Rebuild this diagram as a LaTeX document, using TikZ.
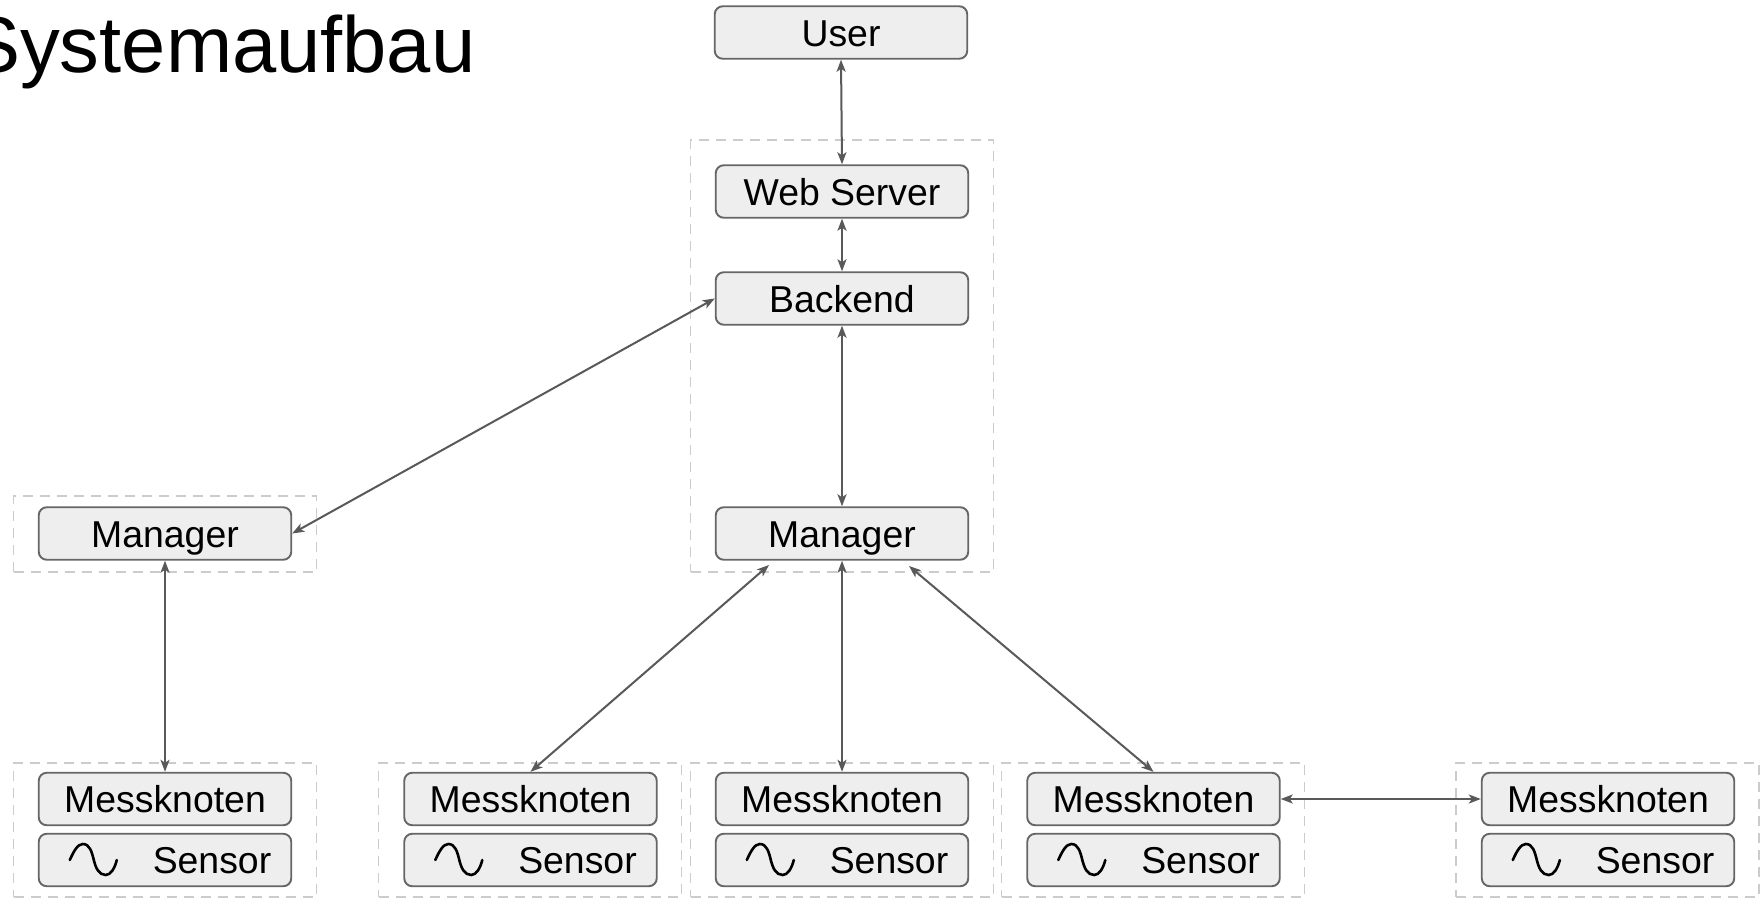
\documentclass[tikz,border=0pt]{standalone}
\usepackage{fontspec}
\setmainfont{Liberation Sans}
\usetikzlibrary{arrows.meta,calc}
\tikzset{
  x=1pt,y=-1pt,
  box/.style={draw=boxline,fill=boxfill,line width=1.9pt,rounded corners=8pt,minimum width=252.5pt,minimum height=52.5pt,inner sep=0pt,font=\fontsize{37.4}{40}\selectfont,text height=27.5pt,text depth=0pt},
  zone/.style={draw=zoneline,line width=1.9pt,dash pattern=on 10pt off 7pt,minimum height=10pt,inner sep=0pt,rectangle},
  link/.style={draw=linkc,line width=2pt,{Stealth[length=12pt,width=9pt,inset=3pt]}-{Stealth[length=12pt,width=9pt,inset=3pt]}},
  wave/.style={line width=2.6pt,black,line cap=round}
}
\definecolor{boxline}{HTML}{666666}
\definecolor{boxfill}{HTML}{EEEEEE}
\definecolor{zoneline}{HTML}{CCCCCC}
\definecolor{linkc}{HTML}{595959}
\begin{document}
\begin{tikzpicture}
\useasboundingbox (0,0) rectangle (1760,899);
\fill[white] (0,0) rectangle (1760,899);
% zones
\node[zone,minimum width=303pt,minimum height=432pt] (zc) at (842,356) {};
\node[zone,minimum width=303pt,minimum height=76pt] (zl) at (165,534) {};
\node[zone,minimum width=303pt,minimum height=134pt] (z1) at (165,830) {};
\node[zone,minimum width=303pt,minimum height=134pt] (z2) at (530,830) {};
\node[zone,minimum width=303pt,minimum height=134pt] (z3) at (842,830) {};
\node[zone,minimum width=303pt,minimum height=134pt] (z4) at (1153,830) {};
\node[zone,minimum width=303pt,minimum height=134pt] (z5) at (1607.5,830) {};
% title
\node[anchor=base west,inner sep=0pt,font=\fontsize{79.5}{82}\selectfont] (title) at (-33,73) {Systemaufbau};
% boxes
\node[box] (user) at (841,32.5) {User};
\node[box] (web) at (842,191.5) {Web Server};
\node[box] (back) at (842,298.5) {Backend};
\node[box] (mc) at (842,533.5) {Manager};
\node[box] (ml) at (165,533.5) {Manager};
\foreach \n/\x in {1/165,2/530.5,3/842,4/1153.5,5/1608}{
  \node[box] (mk\n) at (\x,799) {Messknoten};
  \node[box] (s\n) at (\x,860) {\hspace*{94pt}Sensor};
  \begin{scope}[shift={(s\n.west)}]
    \draw[wave] (32,0) .. controls (36,-9) and (40,-16) .. (45,-16) .. controls (52,-16) and (54,-8) .. (56,0) .. controls (58,8) and (61,15) .. (68,15) .. controls (73,15) and (77,8) .. (79,0);
  \end{scope}
}
% free ends of the slanted connectors
\coordinate (mca) at (769,565);
\coordinate (mcb) at (909,566);
% connectors
\draw[link] (user.south) -- (web.north);
\draw[link] (web.south) -- (back.north);
\draw[link] (back.south) -- (mc.north);
\draw[link] (back.west) -- (ml.east);
\draw[link] (ml.south) -- (mk1.north);
\draw[link] (mca) -- (mk2.north);
\draw[link] (mc.south) -- (mk3.north);
\draw[link] (mcb) -- (mk4.north);
\draw[link] (mk4.east) -- (mk5.west);
\end{tikzpicture}
\end{document}
